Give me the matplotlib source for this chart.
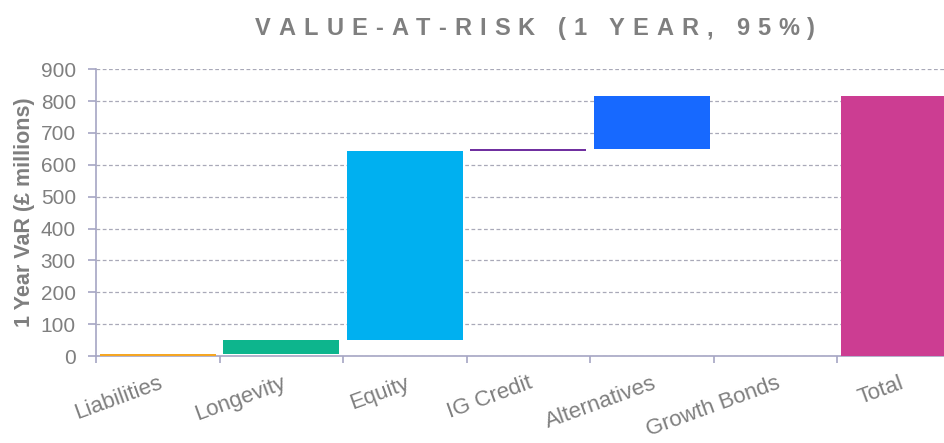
import matplotlib
matplotlib.use("Agg")
import matplotlib.pyplot as plt
import numpy as np

plt.rcParams['font.family'] = ['Liberation Sans', 'DejaVu Sans']

categories = ['Liabilities', 'Longevity', 'Equity', 'IG Credit', 'Alternatives', 'Growth Bonds', 'Total']
changes = [7, 45, 590, 6, 168, 0]
total = 816
colors = ['#F5A623', '#0DB58D', '#00B0F0', '#7030A0', '#1769FF', '#FFFFFF', '#CC3D92']

bottoms = list(np.concatenate([[0], np.cumsum(changes)[:-1]])) + [0]
heights = changes + [total]

grey = '#7F7F7F'
axis_col = '#A6A6C4'

fig = plt.figure(figsize=(9.44, 4.43), dpi=100)
ax = fig.add_axes([0.1017, 0.196, 0.916, 0.648])

x = np.arange(len(categories))
ax.bar(x, heights, bottom=bottoms, width=0.94, color=colors, zorder=3)

ax.set_xlim(-0.5, len(categories) - 0.5)
ax.set_ylim(0, 900)
ax.set_yticks(range(0, 901, 100))
ax.yaxis.grid(True, linestyle=(0, (3, 2)), color='#A9A9B8', linewidth=0.9, zorder=0)

ax.set_xticks(np.arange(-0.5, len(categories), 1.0))
ax.set_xticklabels([])
ax.set_xticks(x, minor=True)
ax.set_xticklabels(categories, minor=True, rotation=20, ha='right',
                   rotation_mode='anchor', fontsize=16, color=grey)
ax.tick_params(axis='x', which='minor', length=0, pad=12)
ax.tick_params(axis='x', which='major', length=5, color=axis_col, width=1.2)
ax.tick_params(axis='y', length=6, color=axis_col, width=1.2, labelsize=15,
               labelcolor=grey, pad=8.5)

for s in ['top', 'right']:
    ax.spines[s].set_visible(False)
for s in ['left', 'bottom']:
    ax.spines[s].set_color(axis_col)
    ax.spines[s].set_linewidth(1.2)

ax.set_ylabel('1 Year VaR (£ millions)', fontsize=15.5, fontweight='bold', color=grey, labelpad=4)

# title with letter spacing
title = 'VALUE-AT-RISK (1 YEAR, 95%)'
track = 8.0  # px between letters
fig.canvas.draw()
r = fig.canvas.get_renderer()
widths = []
for ch in title:
    t = fig.text(0, 0, ch if ch != ' ' else 'i', fontsize=17, fontweight='bold')
    w = t.get_window_extent(r).width
    if ch == ' ':
        w = 17 * 100 / 72 * 0.278
    widths.append(w)
    t.remove()
total_w = sum(widths) + track * (len(title) - 1)
xpos = 535 - total_w / 2
for ch, w in zip(title, widths):
    fig.text(xpos / 944, 0.935, ch, ha='left', va='center', fontsize=17,
             fontweight='bold', color=grey)
    xpos += w + track

fig.savefig('out.png', dpi=100)
